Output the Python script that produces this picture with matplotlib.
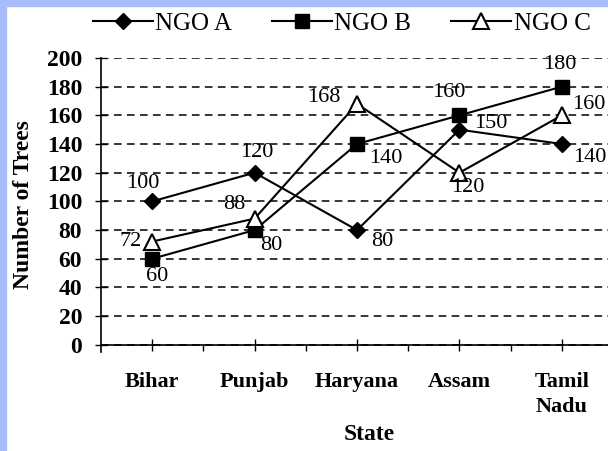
import matplotlib
matplotlib.use("Agg")
import matplotlib.pyplot as plt
from matplotlib.patches import Rectangle
from matplotlib.ticker import MultipleLocator, FixedLocator

states = ["Bihar", "Punjab", "Haryana", "Assam", "Tamil\nNadu"]
ngo_a = [100, 120, 80, 150, 140]
ngo_b = [60, 80, 140, 160, 180]
ngo_c = [72, 88, 168, 120, 160]

# label offsets in pixels (dx, dy with y pointing up)
off_a = [(-9, 18), (2, 20), (25, -11), (31, 6), (28, -13)]
off_b = [(5, -18), (17, -15), (29, -14), (-11, 23), (-2, 22)]
off_c = [(-22, 0), (-20, 14), (-33, 6), (8, -15), (27, 11)]

plt.rcParams["font.family"] = ["Liberation Serif", "DejaVu Serif"]

fig = plt.figure(figsize=(6.08, 4.51), dpi=100)
ax = fig.add_axes([0.166, 0.2195, 0.834, 0.652])

x = list(range(len(states)))
la, = ax.plot(x, ngo_a, color="black", lw=1.5, marker="D", ms=8,
              mfc="black", mec="black", label="NGO A", zorder=3)
lb, = ax.plot(x, ngo_b, color="black", lw=1.5, marker="s", ms=10,
              mfc="black", mec="black", label="NGO B", zorder=3)
lc, = ax.plot(x, ngo_c, color="black", lw=1.5, marker="^", ms=11,
              mfc="white", mec="black", mew=1.5, label="NGO C", zorder=4)

for vals, offs in [(ngo_a, off_a), (ngo_b, off_b), (ngo_c, off_c)]:
    for xi, v, (dx, dy) in zip(x, vals, offs):
        ax.annotate(str(v), (xi, v), xytext=(dx, dy), textcoords="offset pixels",
                    ha="center", va="center", fontsize=16, zorder=5)

ax.set_xlim(-0.5, 4.45)
ax.set_ylim(-5, 200)
ax.grid(axis="y", color="black", linestyle=(0, (5, 3.5)), linewidth=1.1)
ax.set_axisbelow(True)
for s in ["top", "right"]:
    ax.spines[s].set_visible(False)
ax.spines["bottom"].set_position(("data", 0))
ax.spines["left"].set_linewidth(1.2)
ax.spines["bottom"].set_linewidth(1.2)

ax.yaxis.set_major_locator(MultipleLocator(20))
ax.set_xticks(x)
ax.xaxis.set_minor_locator(FixedLocator([0.5, 1.5, 2.5, 3.5]))
ax.tick_params(axis="y", direction="inout", length=9, width=1, pad=9, labelsize=17)
ax.tick_params(axis="x", which="major", direction="inout", length=9, width=1,
               pad=15, labelsize=16)
ax.tick_params(axis="x", which="minor", direction="out", length=4, width=1)
ax.set_xticklabels(states, fontsize=16, fontweight="bold", linespacing=1.35)
ax.set_yticks(range(0, 201, 20))
ax.set_yticklabels([str(v) for v in range(0, 201, 20)], fontsize=17, fontweight="bold")

ax.set_xlabel("State", fontsize=17, fontweight="bold")
ax.xaxis.set_label_coords(0.53, -0.245)
ax.set_ylabel("Number of Trees", fontsize=17, fontweight="bold")
ax.yaxis.set_label_coords(-0.132, 0.5)

fig.legend(handles=[la, lb, lc], loc="center", bbox_to_anchor=(0.562, 0.947),
           ncol=3, frameon=False, fontsize=18, handlelength=2.4,
           handletextpad=0.1, columnspacing=1.6)

# light blue strips at the left and top edge
fig.patches.append(Rectangle((0, 0), 6 / 608, 1, transform=fig.transFigure,
                             color="#a8bcfc", zorder=10))
fig.patches.append(Rectangle((0, 1 - 6 / 451), 1, 6 / 451, transform=fig.transFigure,
                             color="#a8bcfc", zorder=10))

fig.savefig("out.png", dpi=100)
